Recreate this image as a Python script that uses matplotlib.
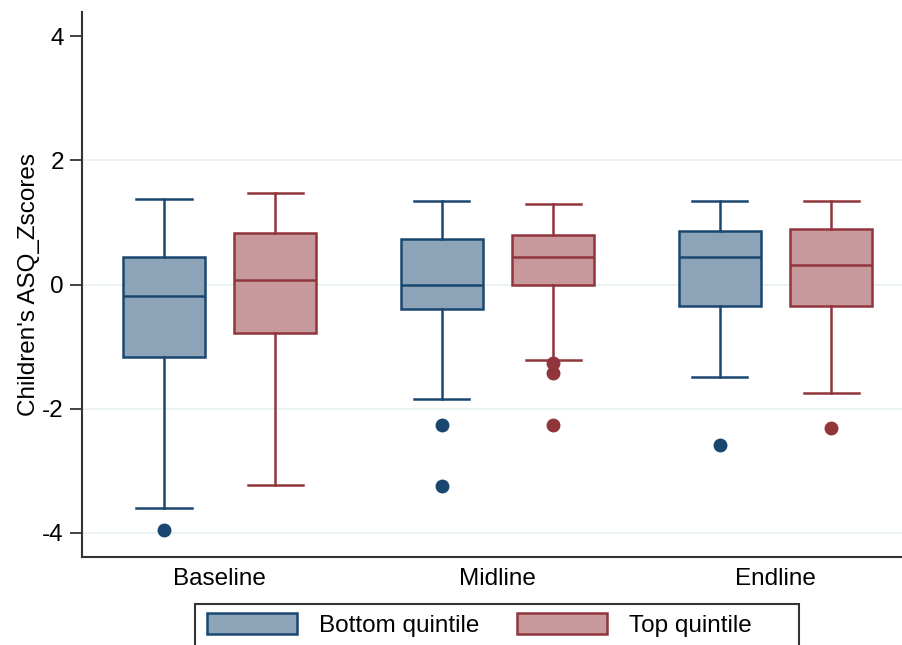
import matplotlib
matplotlib.use("Agg")
from matplotlib import pyplot as plt
from matplotlib.patches import Patch, Rectangle

plt.rcParams['font.family'] = ['Liberation Sans', 'DejaVu Sans']

rounds = ["Baseline", "Midline", "Endline"]
groups = ["Bottom quintile", "Top quintile"]

# box stats: lower whisker, q1, median, q3, upper whisker
bottom_whislo = [-3.60, -1.85, -1.49]
bottom_q1 = [-1.17, -0.40, -0.35]
bottom_med = [-0.18, 0.00, 0.44]
bottom_q3 = [0.45, 0.74, 0.86]
bottom_whishi = [1.37, 1.34, 1.34]
bottom_fliers = [[-3.95], [-2.27, -3.24], [-2.59]]

top_whislo = [-3.23, -1.21, -1.75]
top_q1 = [-0.78, 0.00, -0.35]
top_med = [0.08, 0.45, 0.31]
top_q3 = [0.83, 0.80, 0.90]
top_whishi = [1.47, 1.29, 1.34]
top_fliers = [[], [-1.27, -1.42, -2.27], [-2.31]]

yticks = [-4, -2, 0, 2, 4]
gridlines = [-4, -2, 0, 2]

edge_cols = ["#1a476f", "#90353b"]
fill_cols = ["#8da4b8", "#c8999c"]
fs = 17.5


def make_stats(lo, q1, med, q3, hi, fl):
    out = []
    for i in range(len(lo)):
        out.append({"whislo": lo[i], "q1": q1[i], "med": med[i], "q3": q3[i],
                    "whishi": hi[i], "fliers": fl[i]})
    return out


stats = [make_stats(bottom_whislo, bottom_q1, bottom_med, bottom_q3, bottom_whishi, bottom_fliers),
         make_stats(top_whislo, top_q1, top_med, top_q3, top_whishi, top_fliers)]

fig = plt.figure(figsize=(9.03, 6.45), dpi=100)
ax = fig.add_axes([82 / 903, 1 - 557 / 645, 1 - 82 / 903, (557 - 12) / 645])

for g in gridlines:
    ax.axhline(g, color="#e9f1f3", lw=1.3, zorder=0)

offsets = [-0.2, 0.2]
for k in range(2):
    pos = [i + offsets[k] for i in range(len(rounds))]
    ec = edge_cols[k]
    ax.bxp(stats[k], positions=pos, widths=0.295, capwidths=0.198, patch_artist=True,
           boxprops=dict(facecolor=fill_cols[k], edgecolor=ec, lw=1.8),
           medianprops=dict(color=ec, lw=1.8),
           whiskerprops=dict(color=ec, lw=1.8),
           capprops=dict(color=ec, lw=1.8),
           flierprops=dict(marker="o", markerfacecolor=ec, markeredgecolor=ec, markersize=9),
           manage_ticks=False)

ax.set_xlim(-0.495, 2.4586)
ax.set_ylim(-4.39, 4.39)
ax.set_xticks(range(len(rounds)))
ax.set_xticklabels(rounds)
ax.set_yticks(yticks)
ax.set_yticklabels([str(t) for t in yticks])
ax.tick_params(axis="x", length=0, pad=8, labelsize=fs)
ax.tick_params(axis="y", length=9, width=1.3, color="#333333", pad=4, labelsize=fs)
ax.set_ylabel("Children's ASQ_Zscores", fontsize=fs, labelpad=2)

for s in ["top", "right"]:
    ax.spines[s].set_visible(False)
for s in ["left", "bottom"]:
    ax.spines[s].set_color("#333333")
    ax.spines[s].set_linewidth(1.5)

# legend frame goes off the bottom of the picture
fig.patches.append(Rectangle((195 / 903, -0.1), (799 - 195) / 903, 0.1 + (1 - 604 / 645),
                             transform=fig.transFigure, fill=False,
                             edgecolor="#333333", lw=1.5))
handles = [Patch(facecolor=fill_cols[k], edgecolor=edge_cols[k], lw=1.8, label=groups[k])
           for k in range(2)]
fig.legend(handles=handles, loc="upper left", bbox_to_anchor=(207 / 903, 1 - 613 / 645),
           ncol=2, frameon=False, fontsize=fs, borderpad=0, borderaxespad=0,
           handlelength=3.7, handleheight=0.95, handletextpad=0.9, columnspacing=1.57)

fig.savefig("out.png", dpi=100)
